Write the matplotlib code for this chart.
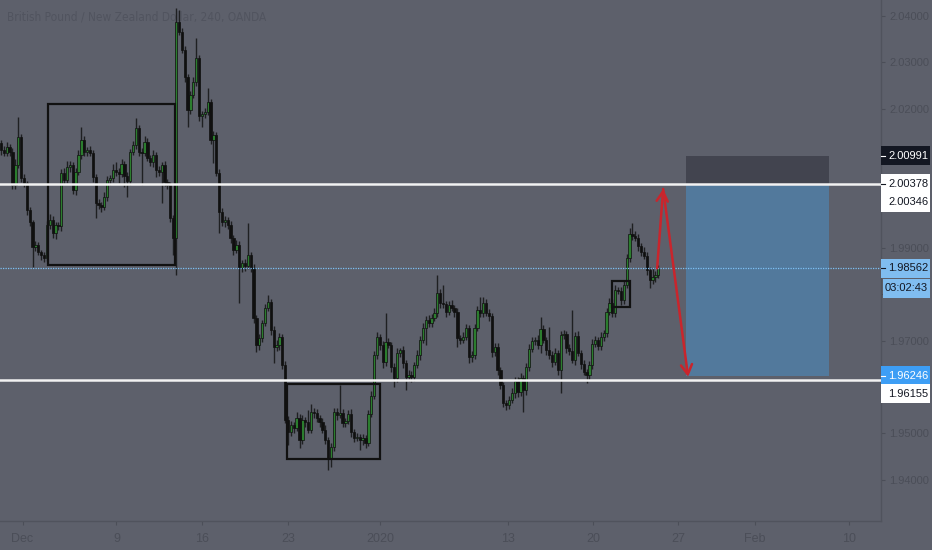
import numpy as np
import matplotlib.pyplot as plt
from matplotlib.patches import Rectangle
from matplotlib.transforms import blended_transform_factory

# GBP/NZD 4h candles, closes (open = previous close)
first_open = 2.0126
closes = [
    2.0111, 2.0105, 2.0118, 2.0107, 2.0036, 2.0079, 2.0139, 2.0051, 2.0040, 1.9982,
    1.9956, 1.9902, 1.9906, 1.9891, 1.9885, 1.9878, 1.9949, 1.9960, 1.9932, 1.9949,
    1.9947, 2.0062, 2.0046, 2.0074, 2.0079, 2.0025, 2.0064, 2.0100, 2.0133, 2.0107,
    2.0111, 2.0105, 2.0053, 1.9997, 1.9992, 1.9988, 2.0010, 2.0046, 2.0051, 2.0068,
    2.0064, 2.0059, 2.0081, 2.0055, 2.0044, 2.0107, 2.0122, 2.0158, 2.0107, 2.0105,
    2.0128, 2.0094, 2.0085, 2.0100, 2.0068, 2.0064, 2.0079, 2.0042, 2.0036, 1.9964,
    1.9921, 2.0387, 2.0365, 2.0327, 2.0268, 2.0197, 2.0230, 2.0258, 2.0309, 2.0184,
    2.0189, 2.0193, 2.0214, 2.0133, 2.0143, 2.0062, 1.9977, 1.9956, 1.9960, 1.9949,
    1.9921, 1.9896, 1.9906, 1.9857, 1.9868, 1.9861, 1.9885, 1.9857, 1.9749, 1.9691,
    1.9706, 1.9738, 1.9771, 1.9784, 1.9723, 1.9686, 1.9691, 1.9708, 1.9648, 1.9529,
    1.9503, 1.9518, 1.9512, 1.9533, 1.9486, 1.9529, 1.9525, 1.9508, 1.9546, 1.9544,
    1.9533, 1.9525, 1.9508, 1.9486, 1.9447, 1.9471, 1.9546, 1.9540, 1.9544, 1.9523,
    1.9527, 1.9542, 1.9503, 1.9490, 1.9493, 1.9486, 1.9490, 1.9480, 1.9542, 1.9581,
    1.9669, 1.9708, 1.9691, 1.9654, 1.9697, 1.9691, 1.9643, 1.9620, 1.9674, 1.9680,
    1.9652, 1.9622, 1.9626, 1.9622, 1.9648, 1.9669, 1.9702, 1.9727, 1.9745, 1.9738,
    1.9749, 1.9760, 1.9803, 1.9781, 1.9779, 1.9762, 1.9777, 1.9771, 1.9762, 1.9706,
    1.9702, 1.9708, 1.9727, 1.9665, 1.9669, 1.9727, 1.9766, 1.9760, 1.9781, 1.9760,
    1.9753, 1.9676, 1.9686, 1.9637, 1.9604, 1.9566, 1.9561, 1.9572, 1.9587, 1.9613,
    1.9589, 1.9620, 1.9594, 1.9643, 1.9682, 1.9700, 1.9702, 1.9691, 1.9725, 1.9702,
    1.9680, 1.9669, 1.9654, 1.9674, 1.9637, 1.9712, 1.9714, 1.9684, 1.9678, 1.9658,
    1.9710, 1.9674, 1.9650, 1.9633, 1.9626, 1.9648, 1.9693, 1.9702, 1.9689, 1.9708,
    1.9717, 1.9762, 1.9781, 1.9760, 1.9809, 1.9807, 1.9788, 1.9820, 1.9878, 1.9930,
    1.9926, 1.9921, 1.9904, 1.9891, 1.9883, 1.9852, 1.9831, 1.9837, 1.9842, 1.98562,
]
# wick lengths beyond the body, in pips
wick_up = [
    6, 8, 10, 6, 8, 12, 43, 6, 8, 5,    6, 5, 8, 6, 5, 6, 10, 12, 8, 6,
    6, 8, 10, 14, 8, 6, 8, 10, 28, 8,   6, 8, 5, 6, 8, 6, 10, 8, 6, 12,
    18, 8, 10, 6, 8, 6, 8, 22, 6, 8,    14, 8, 6, 10, 6, 8, 6, 8, 6, 5,
    6, 30, 26, 10, 8, 6, 8, 10, 43, 6,  6, 8, 30, 6, 8, 6, 8, 10, 8, 6,
    8, 6, 10, 8, 6, 8, 69, 6, 8, 6,     8, 6, 8, 15, 6, 8, 10, 8, 6, 8,
    8, 10, 6, 14, 8, 10, 6, 26, 17, 8,  8, 6, 8, 10, 6, 8, 10, 8, 60, 8,
    6, 8, 10, 6, 8, 6, 8, 6, 8, 10,     8, 11, 6, 8, 62, 8, 6, 8, 10, 5,
    8, 6, 10, 8, 6, 10, 8, 12, 8, 10,   8, 10, 39, 8, 39, 6, 8, 10, 6, 8,
    6, 10, 8, 6, 8, 10, 8, 28, 13, 8,   8, 6, 10, 8, 6, 8, 6, 8, 10, 8,
    8, 10, 6, 8, 10, 8, 6, 10, 26, 8,   6, 50, 8, 10, 6, 8, 10, 6, 8, 88,
    8, 10, 6, 8, 6, 8, 10, 8, 6, 10,    6, 8, 10, 8, 12, 6, 8, 10, 8, 12,
    24, 10, 8, 6, 10, 8, 6, 19, 8, 6,
]
wick_dn = [
    10, 6, 8, 8, 10, 8, 6, 10, 8, 12,   8, 43, 8, 6, 10, 8, 6, 8, 10, 12,
    8, 10, 8, 6, 10, 8, 12, 6, 8, 10,   8, 6, 10, 32, 8, 10, 6, 8, 10, 8,
    8, 20, 6, 24, 34, 8, 6, 8, 10, 70,  8, 6, 8, 10, 16, 8, 67, 8, 10, 8,
    37, 80, 6, 8, 10, 37, 8, 6, 8, 10,  24, 8, 6, 10, 50, 8, 45, 8, 10, 8,
    10, 11, 8, 75, 8, 10, 6, 8, 10, 15, 10, 8, 6, 8, 10, 34, 8, 10, 8, 6,
    28, 8, 10, 6, 17, 8, 10, 8, 6, 10,  8, 10, 6, 8, 26, 19, 8, 10, 6, 10,
    8, 6, 10, 8, 6, 22, 10, 12, 8, 6,   6, 8, 10, 13, 8, 6, 10, 19, 8, 10,
    10, 28, 8, 10, 8, 6, 10, 8, 37, 8,  8, 6, 8, 10, 8, 10, 6, 8, 10, 19,
    10, 8, 6, 13, 10, 8, 6, 10, 8, 6,   10, 12, 8, 10, 8, 9, 11, 8, 6, 10,
    10, 8, 47, 10, 8, 6, 10, 8, 17, 8,  10, 8, 10, 6, 11, 50, 8, 10, 8, 6,
    10, 8, 10, 6, 17, 10, 8, 6, 10, 8,  8, 10, 6, 10, 8, 6, 10, 8, 6, 8,
    8, 6, 10, 8, 6, 10, 17, 8, 10, 6,
]

date_ticks = [7.5, 40.2, 70.0, 100.0, 132.2, 176.7, 206.3, 235.9, 262.7, 295.5]
date_labels = ['Dec', '9', '16', '23', '2020', '13', '20', '27', 'Feb', '10']
price_ticks = np.arange(1.94, 2.0401, 0.01)
# scale ticks whose labels sit behind the coloured price tags
hidden_ticks = [2.01, 2.00, 1.98, 1.96]

# drawings on the chart: (bar from, bar to, price low, price high)
boxes = [(16.4, 60.6, 1.9863, 2.0210),
         (99.7, 132.1, 1.9445, 1.9607),
         (212.9, 219.2, 1.9773, 1.9829)]
levels = [2.00378, 1.96155]
last_price = 1.98562
pos_bars = (238.7, 288.5)
pos_top, pos_entry, pos_bottom = 2.00991, 2.00346, 1.96246
arrow_pts = [(228.6, 1.9856), (230.7, 2.0027), (239.4, 1.9622)]

# price scale labels: price, text, background, text colour, shift in px
scale_labels = [
    (2.00991, '2.00991', '#131722', 'white', 0),
    (2.00378, '2.00378', 'white', '#131722', 0),
    (2.00346, '2.00346', 'white', '#131722', -17),
    (1.98562, '1.98562', '#80bdf0', '#131722', 0),
    (1.98562, '03:02:43', '#80bdf0', '#131722', -20),
    (1.96246, '1.96246', '#3d9ef5', 'white', 0),
    (1.96155, '1.96155', 'white', '#131722', -14),
]

bg = '#5d606b'
dim = '#4b4e58'
narrow = ['Liberation Sans Narrow', 'Liberation Sans', 'DejaVu Sans']

opens = [first_open] + closes[:-1]
o = np.array(opens)
c = np.array(closes)
hi = np.maximum(o, c) + np.array(wick_up) * 0.0001
lo = np.minimum(o, c) - np.array(wick_dn) * 0.0001
x = np.arange(len(c))

fig = plt.figure(figsize=(9.32, 5.5), dpi=100)
fig.patch.set_facecolor(bg)
ax = fig.add_axes([0, 29 / 550, 881 / 932, 521 / 550])
ax.set_facecolor(bg)
ymin, ymax = 1.93114, 2.04343
ax.set_xlim(-0.35, 306.6)
ax.set_ylim(ymin, ymax)
du = (ymax - ymin) / 521  # price per pixel

title = ax.text(7 / 881, 1 - 17 / 521, 'British Pound / New Zealand Dollar, 240, OANDA',
                transform=ax.transAxes, fontsize=10, color='#51545f', va='center',
                family=['DejaVu Sans'], fontstretch='condensed', zorder=1)
# the title is condensed in the chart (about 225 px wide); fit it, not too small
renderer = fig.canvas.get_renderer()
w = title.get_window_extent(renderer).width
title.set_fontsize(max(8.6, 10 * 228 / w))

# long position tool
ax.add_patch(Rectangle((pos_bars[0], pos_entry), pos_bars[1] - pos_bars[0],
                       pos_top - pos_entry, facecolor='#42444f', edgecolor='none', zorder=2))
ax.add_patch(Rectangle((pos_bars[0], pos_bottom), pos_bars[1] - pos_bars[0],
                       pos_entry - pos_bottom, facecolor='#52799c', edgecolor='none', zorder=2))

# candles
up = c >= o
ax.vlines(x, lo, hi, color='#151515', lw=1.0, alpha=0.85, zorder=3)
body_lo = np.minimum(o, c)
body_h = np.maximum(np.abs(c - o), 0.00015)
ax.bar(x[up], body_h[up], bottom=body_lo[up], width=0.8, color='#2b7d2e',
       edgecolor='#101010', linewidth=0.5, zorder=3)
ax.bar(x[~up], body_h[~up], bottom=body_lo[~up], width=0.8, color='#101010',
       edgecolor='#101010', linewidth=0.5, zorder=3)

for x0, x1, y0, y1 in boxes:
    ax.add_patch(Rectangle((x0, y0), x1 - x0, y1 - y0, fill=False,
                           edgecolor='#111111', lw=1.6, zorder=4))

for lv in levels:
    ax.axhline(lv, color='#f2f2f2', lw=1.8, zorder=4)
ax.axhline(last_price, color='#7cc0f5', lw=0.9, ls=(0, (1, 1)), zorder=4)

for (xa, ya), (xb, yb) in zip(arrow_pts[:-1], arrow_pts[1:]):
    ax.annotate('', xy=(xb, yb), xytext=(xa, ya),
                arrowprops=dict(arrowstyle='->,head_length=0.7,head_width=0.4',
                                color='#c9252c', lw=1.8, shrinkA=0, shrinkB=0),
                zorder=5)

# axes look
for side in ['top', 'left']:
    ax.spines[side].set_visible(False)
for side in ['right', 'bottom']:
    ax.spines[side].set_color('#50535d')
    ax.spines[side].set_linewidth(1.0)
ax.yaxis.tick_right()
ax.set_yticks(price_ticks)
ax.set_yticklabels(['' if any(abs(p - h) < 1e-6 for h in hidden_ticks) else '%.5f' % p
                    for p in price_ticks])
ax.set_xticks(date_ticks)
ax.set_xticklabels(date_labels)
ax.tick_params(axis='y', length=3, width=0.8, color=dim, labelcolor=dim,
               labelsize=8, pad=3)
ax.tick_params(axis='x', length=3, width=0.8, color=dim, labelcolor=dim,
               labelsize=9, pad=6)
for lab in ax.get_xticklabels() + ax.get_yticklabels():
    lab.set_family(narrow)

# price scale labels
tr = blended_transform_factory(fig.transFigure, ax.transData)
for p, txt, fc, tc, shift in scale_labels:
    yc = p + shift * du
    x0 = 881 / 932 if shift != -20 else 883 / 932
    ax.add_patch(Rectangle((x0, yc - 9.5 * du), 1 - x0 - 2 / 932, 19 * du,
                           transform=tr, facecolor=fc, edgecolor='none',
                           clip_on=False, zorder=6))
    if shift == 0:
        ax.plot([881 / 932, 885 / 932], [p, p], transform=tr, color=tc,
                lw=0.8, clip_on=False, zorder=7)
    ax.text(888 / 932 if shift != -20 else 885 / 932, yc, txt, transform=tr,
            fontsize=8, color=tc, va='center', ha='left', family=narrow,
            clip_on=False, zorder=7)

fig.savefig('out.png', dpi=100, facecolor=bg)
